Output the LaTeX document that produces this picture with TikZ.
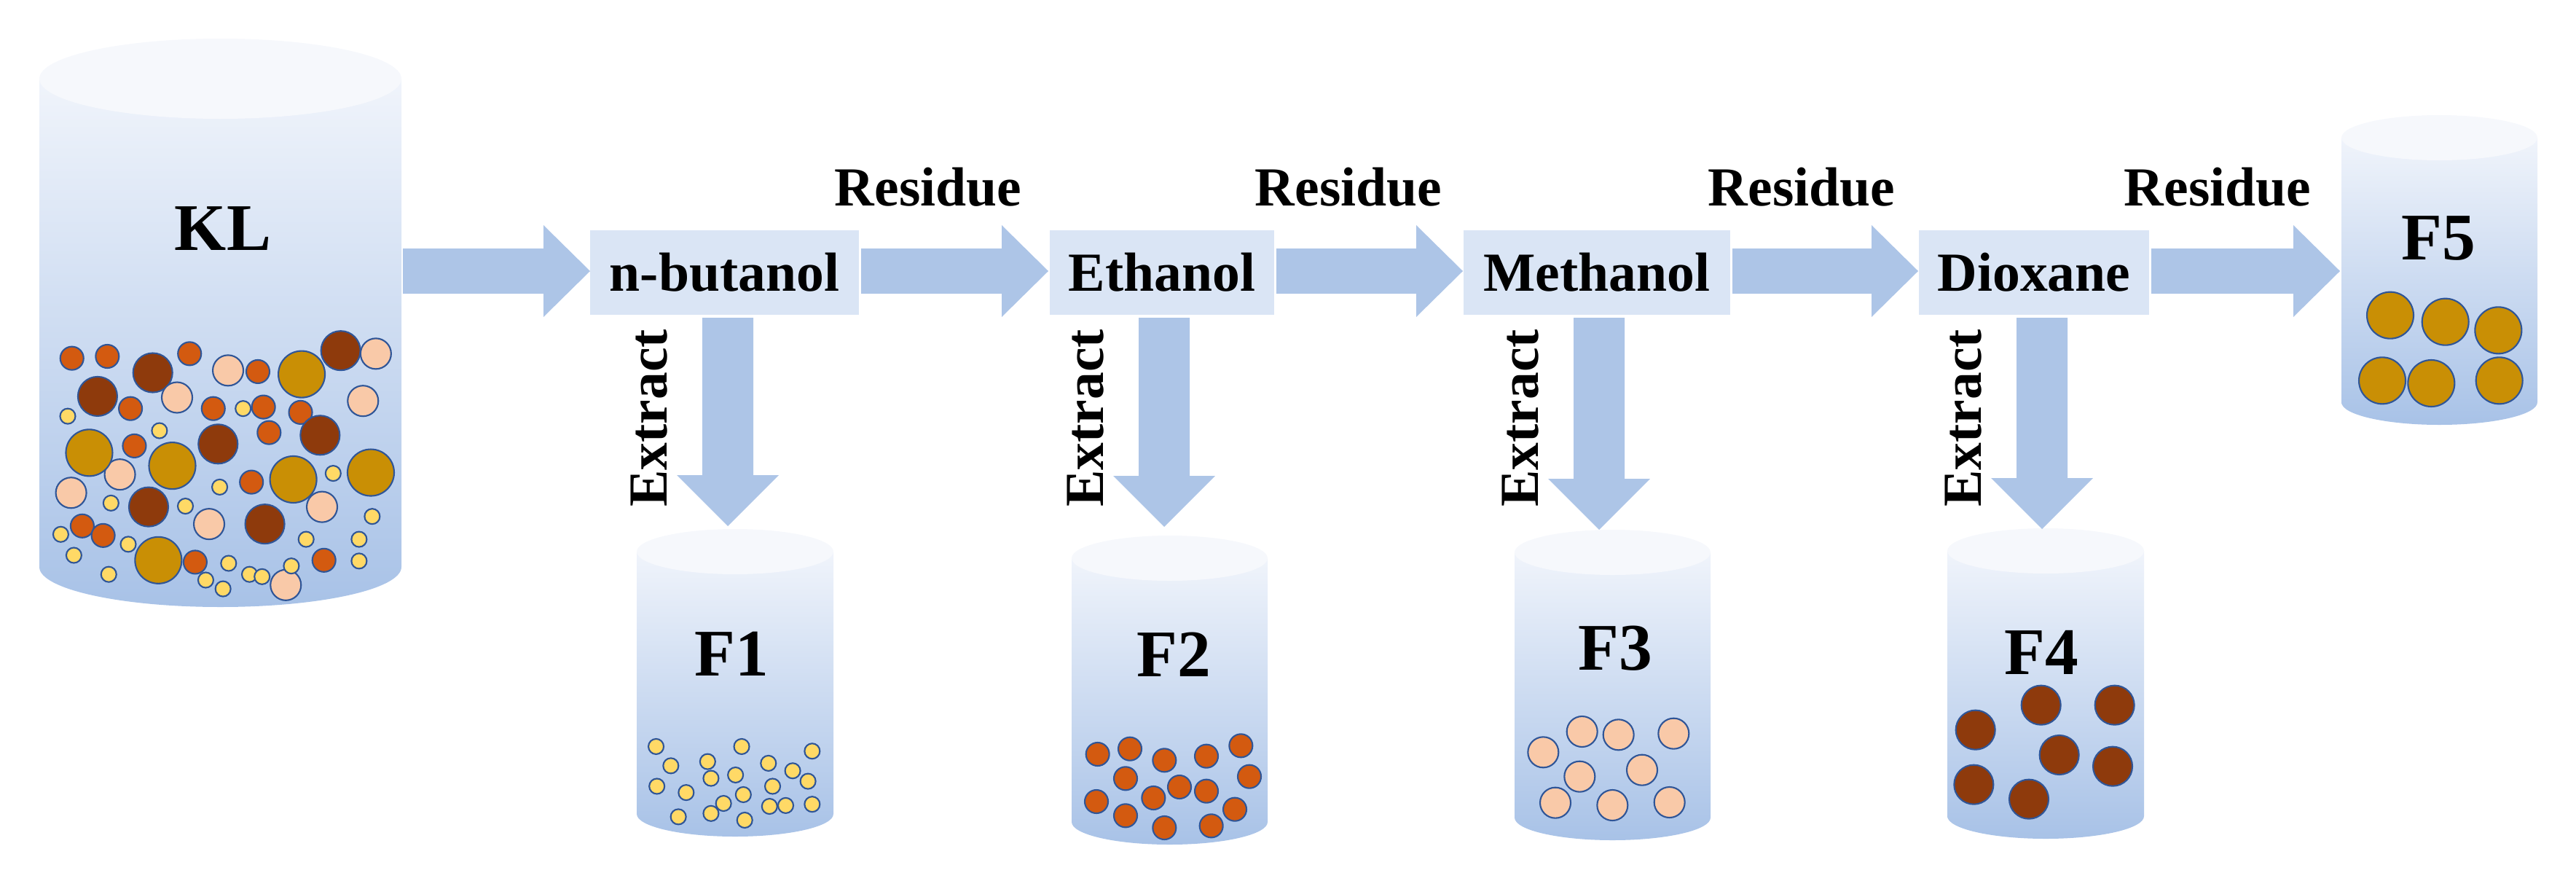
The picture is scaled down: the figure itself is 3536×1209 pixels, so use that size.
\documentclass[tikz,border=0pt]{standalone}
\usepackage{fontspec}
\setmainfont{Liberation Serif}
\begin{document}
\begin{tikzpicture}[x=0.01cm,y=-0.01cm,
  arr/.style={fill=arrc,draw=none},
  box/.style={fill=boxc,draw=none,minimum width=#1*0.01cm,minimum height=1.16cm,inner sep=0pt,font=\fontsize{21.5}{24}\selectfont\bfseries},
  lab/.style={font=\fontsize{21.5}{24}\selectfont\bfseries,inner sep=0pt},
  big/.style={font=\fontsize{26}{28}\selectfont\bfseries,inner sep=0pt},
  pO/.style={fill=cO,draw=cE,line width=0.6pt},
  pB/.style={fill=cB,draw=cE,line width=0.6pt},
  pP/.style={fill=cP,draw=cE,line width=0.6pt},
  pG/.style={fill=cG,draw=cE,line width=0.6pt},
  pY/.style={fill=cY,draw=cE,line width=0.6pt}]
\definecolor{arrc}{HTML}{ADC5E7}
\definecolor{boxc}{HTML}{DAE5F5}
\definecolor{ctop}{HTML}{F0F4FB}
\definecolor{cbot}{HTML}{A8C2E7}
\definecolor{clid}{HTML}{F6F8FC}
\definecolor{cO}{HTML}{D35A10}
\definecolor{cB}{HTML}{8E3A0C}
\definecolor{cP}{HTML}{F9C9A8}
\definecolor{cG}{HTML}{C98F05}
\definecolor{cY}{HTML}{FFD966}
\definecolor{cE}{HTML}{2F5597}
\useasboundingbox (0,0) rectangle (3536,1209);
% cylinder: xl, xr, ytop, ybot, ry
\newcommand\mycyl[5]{%
  \pgfmathsetmacro\rx{(#2-#1)/2}\pgfmathsetmacro\cx{(#1+#2)/2}%
  \shade[top color=ctop,bottom color=cbot] (#1,#3) -- (#1,#4) arc[start angle=180,end angle=0,x radius=\rx,y radius=#5] -- (#2,#3) -- cycle;
  \fill[clid] (\cx,#3) ellipse[x radius=\rx,y radius=#5];}
\newcommand\harr[3]{\fill[arr] (#1,{#3-31}) -- ({#2-64},{#3-31}) -- ({#2-64},{#3-63}) -- (#2,#3) -- ({#2-64},{#3+63}) -- ({#2-64},{#3+31}) -- (#1,{#3+31}) -- cycle;}
\newcommand\varr[3]{\fill[arr] ({#1-35},#2) -- ({#1-35},{#3-70}) -- ({#1-70},{#3-70}) -- (#1,#3) -- ({#1+70},{#3-70}) -- ({#1+35},{#3-70}) -- ({#1+35},#2) -- cycle;}
% cylinders
\mycyl{54}{551}{108}{778}{55}
\mycyl{874}{1144}{757}{1117}{31}
\mycyl{1471}{1740}{766}{1128}{31}
\mycyl{2079}{2348}{758}{1122}{31}
\mycyl{2673}{2943}{756}{1120}{31}
\mycyl{3214}{3483}{189}{552}{31}
\node[big] (KL) at (306,314) {KL};
\node[big] (F1) at (1004,897) {F1};
\node[big] (F2) at (1611,898) {F2};
\node[big] (F3) at (2217,890) {F3};
\node[big] (F4) at (2802,895) {F4};
\node[big] (F5) at (3347,327) {F5};
% boxes
\node[box=369] (b1) at (994.5,374) {n-butanol};
\node[box=308] (b2) at (1595,374) {Ethanol};
\node[box=366] (b3) at (2192,374) {Methanol};
\node[box=316] (b4) at (2792,374) {Dioxane};
% arrows
\harr{553}{810}{372}
\harr{1182}{1439}{372}
\harr{1752}{2008}{372}
\harr{2378}{2633}{372}
\harr{2953}{3212}{372}
\varr{999}{436}{722}
\varr{1598}{436}{723}
\varr{2195}{436}{727}
\varr{2803}{436}{726}
\node[lab] (r1) at (1274,257) {Residue};
\node[lab] (r2) at (1851,257) {Residue};
\node[lab] (r3) at (2473,257) {Residue};
\node[lab] (r4) at (3044,257) {Residue};
\node[lab,rotate=90] (e1) at (891,574) {Extract};
\node[lab,rotate=90] (e2) at (1490,574) {Extract};
\node[lab,rotate=90] (e3) at (2087,574) {Extract};
\node[lab,rotate=90] (e4) at (2695,574) {Extract};
% KL particles (zoom coords)
\foreach \a/\b in {258/940,385/935,680/928,925/975,468/1072,765/1072,945/1068,1078/1082,965/1135,482/1170,902/1265,295/1380,370/1405,700/1475,1162/1470}
  \draw[pO] ({\a/2.613},{\b/1.912}) circle (16);
\foreach \a/\b in {548/978,350/1040,1222/920,782/1165,1148/1142,533/1330,950/1375}
  \draw[pB] ({\a/2.613},{\b/1.912}) circle (27);
\foreach \a/\b in {818/972,635/1043,1348/928,1302/1052,430/1245,255/1293,750/1375,1155/1330,1025/1535}
  \draw[pP] ({\a/2.613},{\b/1.912}) circle (21);
\foreach \a/\b in {1082/982,320/1188,618/1222,1052/1258,1330/1240,568/1470}
  \draw[pG] ({\a/2.613},{\b/1.912}) circle (32);
\foreach \a/\b in {243/1092,572/1130,872/1072,788/1278,1195/1242,398/1320,665/1328,1335/1355,218/1402,265/1457,460/1428,1098/1415,1288/1415,1288/1472,390/1507,820/1478,1045/1485,895/1507,940/1513,738/1522,800/1545}
  \draw[pY] ({\a/2.613},{\b/1.912}) circle (10.5);
% F1
\foreach \a/\b in {315/1262,368/1308,500/1298,622/1262,718/1302,875/1273,805/1320,860/1345,512/1338,600/1330,318/1357,423/1372,733/1357,628/1377,557/1398,722/1405,780/1403,875/1400,395/1430,512/1422,633/1438}
  \draw[pY] ({780+\a/2.613},{300+\b/1.742}) circle (10.5);
% F2
\foreach \a/\b in {200/1005,333/983,475/1030,648/1013,790/970,315/1105,825/1097,537/1140,648/1157,430/1185,195/1200,315/1258,765/1232,475/1308,668/1300}
  \draw[pO] ({1440+\a/3},{700+\b/3}) circle (16);
% F3
\foreach \a/\b in {335/912,485/925,712/920,175/997,325/1097,582/1070,225/1205,460/1215,695/1203}
  \draw[pP] ({2060+\a/3},{700+\b/3}) circle (21);
% F4
\foreach \a/\b in {425/803,728/803,155/905,500/1008,720/1055,148/1130,375/1190}
  \draw[pB] ({2660+\a/3},{700+\b/3}) circle (27);
% F5
\foreach \a/\b in {303/908,530/935,748/970,270/1177,472/1188,752/1177}
  \draw[pG] ({3180+\a/3},{130+\b/3}) circle (32);
\end{tikzpicture}
\end{document}
